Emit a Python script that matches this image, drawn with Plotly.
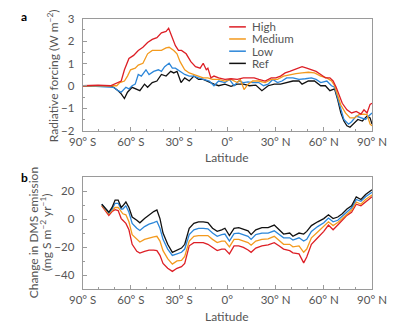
import plotly.graph_objects as go

# ---- Panel a: zonal-mean radiative forcing (W m-2) ----
lat_high = [-90, -80.4, -72.7, -70.8, -67.9, -66.0, -64.0, -61.2, -58.3, -55.4, -52.5, -49.6, -46.7, -43.8,
            -41.0, -38.1, -36.5, -34.2, -32.3, -30.4, -28.5, -25.6, -22.7, -19.8, -16.9, -15.0, -13.1, -12.1,
            -10.2, -8.3, -5.4, -1.5, 2.3, 6.2, 10.0, 13.8, 16.7, 19.6, 23.5, 27.3, 30.2, 33.1, 36.0, 38.8,
            41.7, 44.6, 46.5, 49.4, 52.3, 55.2, 58.1, 61.0, 63.8, 65.8, 67.7, 69.6, 71.5, 74.4, 77.3, 80.2,
            83.1, 85.0, 86.9, 88.8, 90.0]
rf_high = [0.01, 0.04, 0.01, 0.08, 0.15, 0.22, 0.72, 1.22, 1.36, 1.58, 1.72, 1.93, 2.07, 2.15,
           2.36, 2.43, 2.57, 2.15, 1.79, 1.58, 1.58, 1.43, 1.08, 0.86, 0.79, 1.01, 0.72, 0.79,
           0.36, 0.44, 0.36, 0.29, 0.32, 0.29, 0.36, 0.36, 0.36, 0.29, 0.22, 0.36, 0.36, 0.44, 0.58, 0.65,
           0.72, 0.79, 0.86, 0.79, 0.72, 0.65, 0.51, 0.36, 0.36, 0.22, -0.06, -0.42, -0.77, -1.06, -1.20, -1.13,
           -1.25, -1.06, -1.20, -0.82, -0.77]

lat_medium = [-90, -80.4, -70.8, -68.8, -66.9, -64.0, -62.1, -60.2, -57.3, -55.4, -52.5, -49.6, -46.7, -43.8,
              -41.0, -38.1, -36.2, -33.3, -31.3, -29.4, -26.5, -23.7, -20.8, -17.9, -15.0, -12.1, -9.2, -5.4,
              -1.5, 2.3, 6.2, 8.1, 10.4, 12.9, 15.8, 19.6, 23.5, 27.3, 31.2, 35.0, 38.8, 42.7, 46.5, 50.4,
              54.2, 58.1, 61.9, 64.8, 66.7, 68.7, 70.6, 73.5, 76.3, 79.2, 82.1, 85.0, 86.9, 88.8, 90.0]
rf_medium = [0.01, 0.01, 0.01, 0.01, 0.15, 0.22, 0.44, 0.72, 0.79, 0.93, 1.01, 1.43, 1.58, 1.58,
             1.58, 1.69, 1.72, 1.58, 1.43, 1.08, 0.72, 0.58, 0.51, 0.44, 0.36, 0.36, 0.29, 0.29,
             0.22, 0.29, 0.15, 0.29, -0.16, 0.08, 0.22, 0.22, 0.15, 0.29, 0.29, 0.44, 0.51, 0.55, 0.58, 0.61,
             0.58, 0.44, 0.36, 0.22, 0.01, -0.42, -0.85, -1.20, -1.42, -1.42, -1.27, -1.25, -1.27, -1.70, -1.77]

lat_low = [-90, -80.4, -70.8, -67.9, -66.0, -63.1, -61.2, -59.2, -57.3, -55.4, -53.5, -50.6, -48.7, -45.8,
           -42.9, -41.0, -39.0, -36.2, -34.2, -32.3, -29.4, -26.5, -23.7, -20.8, -17.9, -15.0, -11.2, -8.3,
           -5.4, -1.5, 1.3, 4.2, 7.1, 10.0, 12.9, 15.8, 19.6, 22.5, 25.4, 28.3, 31.2, 34.0, 36.9, 40.8,
           44.6, 48.5, 52.3, 55.2, 58.1, 61.9, 64.8, 66.7, 68.7, 70.6, 72.5, 75.4, 77.3, 80.2, 83.1, 86.0,
           87.9, 90.0]
rf_low = [0.01, -0.02, -0.06, -0.21, -0.28, -0.06, -0.13, 0.01, 0.08, 0.51, 0.44, 0.72, 0.51, 0.65,
          0.72, 0.65, 0.86, 1.01, 0.79, 0.79, 0.65, 0.51, 0.44, 0.44, 0.36, 0.29, 0.22, 0.01,
          0.22, 0.15, 0.29, 0.01, 0.22, 0.15, 0.18, 0.15, 0.15, 0.01, 0.08, 0.29, 0.15, 0.22, 0.36, 0.36,
          0.29, 0.32, 0.36, 0.29, 0.15, 0.22, 0.01, -0.06, -0.56, -1.13, -1.49, -1.70, -1.59, -1.34, -1.42, -1.49,
          -1.34, -1.20]

lat_ref = [-90, -80.4, -72.7, -70.8, -67.9, -66.0, -64.0, -62.1, -59.2, -57.3, -54.4, -51.5, -49.6, -46.7,
           -43.8, -41.0, -38.1, -35.2, -33.3, -31.3, -28.8, -26.5, -23.7, -20.8, -17.9, -15.0, -11.2, -8.3,
           -5.4, -1.5, 2.3, 6.2, 10.0, 13.8, 17.7, 21.5, 25.4, 29.2, 33.1, 36.9, 40.8, 44.6, 46.5, 50.4,
           54.2, 58.1, 61.0, 63.8, 66.7, 68.7, 70.6, 72.5, 74.4, 76.3, 78.3, 81.2, 84.0, 86.9, 88.8, 90.0]
rf_ref = [0.01, -0.02, 0.01, -0.06, -0.21, -0.35, -0.56, -0.28, -0.06, -0.13, -0.21, 0.08, -0.06, 0.15,
          0.22, 0.51, 0.44, 0.65, 0.58, 0.65, 0.15, 0.36, 0.22, 0.44, 0.29, 0.29, 0.15, 0.08,
          0.01, 0.08, -0.02, 0.08, 0.08, 0.01, 0.04, -0.21, 0.01, 0.08, 0.08, 0.15, 0.22, 0.22, 0.08, 0.22,
          0.22, 0.01, 0.01, -0.21, -0.13, -0.63, -1.20, -1.56, -1.77, -1.84, -1.70, -1.49, -1.56, -1.34, -1.42, -1.70]

# ---- Panel b: change in DMS emission (mg S m-2 yr-1) ----
lat_dms = [-78.1, -75.6, -73.7, -71.7, -69.8, -67.9, -66.0, -65.0, -63.1, -61.2, -59.2, -56.3, -54.4, -51.5,
           -48.7, -45.8, -43.8, -41.9, -40.0, -37.1, -34.2, -31.3, -28.5, -26.5, -23.7, -20.8, -17.9, -15.0,
           -12.1, -9.2, -6.3, -3.5, -1.5, 1.3, 4.2, 7.1, 10.0, 12.9, 14.8, 17.7, 21.5, 25.4, 29.2, 32.1,
           35.0, 38.8, 40.8, 44.6, 47.5, 49.4, 52.3, 56.2, 60.0, 62.9, 65.8, 68.7, 71.5, 74.4, 77.3, 80.2,
           83.1, 86.0, 90.0]
dms_ref = [10.6, 7.2, 4.9, 8.3, 13.6, 13.6, 8.3, 9.5, 12.2, 8.3, 1.5, -0.8, -2.6, 0.4,
           3.1, 5.4, 6.5, 0.4, -9.9, -17.9, -23.6, -22.0, -20.6, -17.9, -6.5, -3.0, -1.9, -1.9,
           -2.4, -6.5, -8.7, -7.6, -6.5, -11.7, -6.5, -6.0, -7.1, -8.3, -11.0, -7.6, -6.0, -6.0, -4.2, -7.6,
           -10.6, -9.9, -12.2, -9.9, -10.6, -8.7, -4.6, -1.9, 0.4, 3.1, 0.4, 1.5, 3.8, 7.2, 9.5, 15.9,
           14.0, 17.5, 20.9]
dms_low = [10.6, 7.2, 4.5, 7.2, 11.3, 11.3, 7.2, 7.2, 9.5, 4.9, -3.0, -6.5, -8.1, -5.3,
           -3.5, -2.4, -1.5, -6.5, -14.4, -21.3, -25.8, -24.7, -23.6, -21.3, -11.0, -7.6, -6.5, -6.5,
           -6.9, -9.9, -12.2, -11.0, -10.6, -15.6, -10.3, -9.9, -11.0, -12.2, -14.4, -11.0, -9.9, -9.9, -8.3, -11.0,
           -13.3, -13.3, -14.9, -13.3, -15.6, -14.4, -8.7, -5.3, -2.6, 0.8, -1.9, -0.8, 2.0, 5.4, 8.1, 14.0,
           12.7, 15.9, 19.1]
dms_medium = [9.9, 6.5, 3.8, 6.1, 8.3, 8.3, 4.9, 3.8, 3.1, -1.9, -11.0, -14.4, -16.3, -14.4,
              -13.3, -12.6, -12.2, -15.6, -22.4, -28.1, -32.0, -29.7, -29.3, -26.5, -15.6, -12.2, -11.7, -11.7,
              -11.7, -14.4, -16.7, -15.6, -15.6, -19.7, -14.4, -14.4, -15.6, -16.7, -18.5, -15.6, -14.4, -14.0, -12.2, -15.1,
              -17.9, -17.9, -19.7, -19.0, -23.6, -21.3, -13.3, -9.2, -5.3, -1.9, -4.6, -2.4, 0.4, 3.8, 6.5, 12.2,
              10.6, 14.0, 17.2]
dms_high = [9.5, 6.1, 2.7, 5.4, 6.8, 6.1, 0.4, -0.8, -3.0, -7.6, -17.9, -22.9, -24.2, -22.9,
            -22.0, -22.0, -22.4, -25.8, -31.5, -35.0, -37.2, -35.0, -33.8, -31.5, -19.0, -16.7, -16.7, -16.7,
            -17.9, -20.1, -22.4, -21.3, -21.3, -24.7, -19.0, -19.0, -20.1, -22.0, -23.6, -20.6, -19.0, -18.3, -16.7, -19.0,
            -21.3, -22.4, -24.0, -24.7, -31.1, -27.0, -17.9, -13.3, -8.7, -4.2, -7.6, -4.2, -0.8, 2.7, 4.9, 10.6,
            9.5, 12.2, 15.9]

lat_ticks = [-90, -60, -30, 0, 30, 60, 90]
lat_labels = ["90° S", "60° S", "30° S", "0°", "30° N", "60° N", "90° N"]
scenarios = ["High", "Medium", "Low", "Ref"]
colors = {"High": "#dd1f26", "Medium": "#f39a1e", "Low": "#2b86d9", "Ref": "#111111"}

FONT = "Lato"
FS = 11.5
TXT = "#555555"
FRAME = "#9a9a9a"

fig = go.Figure()

rf_series = {"High": (lat_high, rf_high), "Medium": (lat_medium, rf_medium),
             "Low": (lat_low, rf_low), "Ref": (lat_ref, rf_ref)}
dms_series = {"High": dms_high, "Medium": dms_medium, "Low": dms_low, "Ref": dms_ref}

# Ref drawn last in the forcing panel so it sits on top
for name in ["Ref", "Low", "Medium", "High"]:
    x, y = rf_series[name]
    fig.add_trace(go.Scatter(x=x, y=y, mode="lines", name=name, xaxis="x", yaxis="y",
                             line=dict(color=colors[name], width=1.3), showlegend=False))
for name in ["High", "Medium", "Low", "Ref"]:
    fig.add_trace(go.Scatter(x=lat_dms, y=dms_series[name], mode="lines", name=name,
                             xaxis="x2", yaxis="y2",
                             line=dict(color=colors[name], width=1.3), showlegend=False))

xdom = [74 / 400, 386 / 400]
ya_dom = [1 - 129 / 329, 1 - 12 / 329]
yb_dom = [1 - 294 / 329, 1 - 177 / 329]

minor_lat = [v for v in range(-90, 91, 10)]

def xaxis_cfg(anchor):
    return dict(domain=xdom, anchor=anchor, range=[-90, 90], tickmode="array",
                tickvals=lat_ticks, ticktext=lat_labels, ticks="inside", ticklen=4,
                tickcolor=FRAME, showline=True, linecolor=FRAME, linewidth=1, mirror=True,
                showgrid=False, zeroline=False, ticklabeloverflow="allow",
                minor=dict(tickmode="array", tickvals=minor_lat, ticks="inside", ticklen=2,
                           tickcolor=FRAME),
                tickfont=dict(family=FONT, size=FS, color=TXT))

def yaxis_cfg(anchor, dom, rng, dtick, minor_dtick):
    return dict(domain=dom, anchor=anchor, range=rng, tickmode="linear", dtick=dtick,
                ticks="inside", ticklen=4, tickcolor=FRAME, showline=True, linecolor=FRAME,
                linewidth=1, mirror=True, showgrid=False, zeroline=False,
                minor=dict(dtick=minor_dtick, ticks="inside", ticklen=2, tickcolor=FRAME),
                tickfont=dict(family=FONT, size=FS, color=TXT), ticklabelstandoff=5)

fig.update_layout(
    width=400, height=329, margin=dict(l=0, r=0, t=0, b=0),
    paper_bgcolor="white", plot_bgcolor="white",
    xaxis=xaxis_cfg("y"), yaxis=yaxis_cfg("x", ya_dom, [-2, 3], 1, 0.5),
    xaxis2=xaxis_cfg("y2"), yaxis2=yaxis_cfg("x2", yb_dom, [-50, 30], 20, 10),
    showlegend=False,
)

def note(text, px, py, angle=0, anchor="center", size=FS, color=TXT):
    return dict(text=text, x=px / 400, y=1 - py / 329, xref="paper", yref="paper",
                showarrow=False, textangle=angle, xanchor=anchor, yanchor="middle",
                font=dict(family=FONT, size=size, color=color))

ann = [
    note("<b>a</b>", 5, 10, anchor="left", size=12, color="black"),
    note("<b>b</b>", 5, 178, anchor="left", size=12, color="black"),
    note("Radiative forcing (W m<sup>−2</sup>)", 42, 71, angle=-90, size=12),
    note("Change in DMS emission", 21, 235, angle=-90, size=12),
    note("(mg S m<sup>−2</sup> yr<sup>−1</sup>)", 34, 235, angle=-90, size=12),
    note("Latitude", 230, 157, size=12),
    note("Latitude", 230, 322, size=12),
]

# legend for the forcing panel
shapes = []
leg_y = [20.7, 33.3, 46.0, 58.7]
for name, yy in zip(scenarios, leg_y):
    yp = 1 - yy / 329
    shapes.append(dict(type="line", xref="paper", yref="paper", x0=232 / 400, x1=250 / 400,
                       y0=yp, y1=yp, line=dict(color=colors[name], width=1.5)))
    ann.append(note(name, 254, yy, anchor="left", size=11.5))

fig.update_layout(annotations=ann, shapes=shapes)
fig.write_html("out.html")
